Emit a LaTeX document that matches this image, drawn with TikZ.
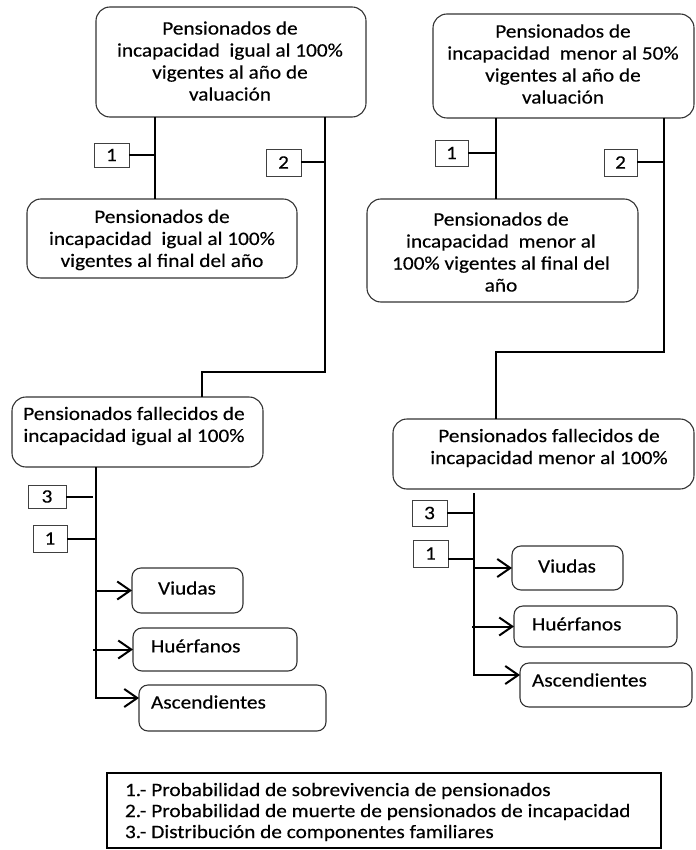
\documentclass[tikz,border=0pt]{standalone}
\usepackage{fontspec}
\setmainfont{Carlito}[FakeStretch=1.12, FakeBold=0.3]
\usetikzlibrary{arrows.meta}
\begin{document}
\begin{tikzpicture}[x=1pt,y=-1pt,
  every node/.style={font=\fontsize{19}{22}\selectfont, inner sep=0pt, outer sep=0pt},
  bigbox/.style={draw=black!80, line width=1.1pt, rounded corners=14pt, anchor=north west},
  smallbox/.style={draw=black!80, line width=1.1pt, rounded corners=9pt, anchor=north west},
  tagbox/.style={draw=black!75, line width=0.9pt, anchor=north west},
  txt/.style={align=center},
  conn/.style={line width=2pt, black},
  arr/.style={conn, -{Straight Barb[length=13pt, width=18pt, line width=2pt]}},
]
\useasboundingbox (0,0) rectangle (695,850);

% ---- left branch: total incapacity ----
\node[bigbox, minimum width=270pt, minimum height=110pt] (b1) at (96,7) {};
\node[txt] (b1t) at (230,61) {Pensionados de\\incapacidad\ \ igual al 100\%\\vigentes al año de\\valuación};

\node[bigbox, minimum width=270pt, minimum height=79pt] (b2) at (27,199) {};
\node[txt] (b2t) at (162,240) {Pensionados de\\incapacidad\ \ igual al 100\%\\vigentes al final del año};

\node[bigbox, minimum width=251pt, minimum height=70pt] (b3) at (12,397) {};
\node[txt] (b3t) at (134,426) {Pensionados fallecidos de\\incapacidad igual al 100\%};

\node[tagbox, minimum width=35pt, minimum height=24pt] (t1a) at (94,143) {1};
\node[tagbox, minimum width=35pt, minimum height=27pt] (t2a) at (266,149) {2};

\coordinate (ja) at (155,155);
\coordinate (ka) at (325,372);
\coordinate (kb) at (202,372);
\draw[conn] (b1.south -| ja) -- (b2.north -| ja);
\draw[conn] (t1a.east) -- (t1a.east -| ja);
\draw[conn] (b1.south -| ka) -- (ka) -- (kb) -- (b3.north -| kb);
\draw[conn] (t2a.east) -- (t2a.east -| ka);

% family members, left
\node[tagbox, minimum width=38pt, minimum height=23pt] (t3a) at (28,485) {3};
\node[tagbox, minimum width=34pt, minimum height=27pt] (t1b) at (33,525) {1};

\node[smallbox, minimum width=111pt, minimum height=45pt] (vi1) at (132,568) {};
\node (vi1t) at (187,588) {Viudas};
\node[smallbox, minimum width=164pt, minimum height=43pt] (hu1) at (133,628) {};
\node[anchor=west] (hu1t) at (151,646) {Huérfanos};
\node[smallbox, minimum width=187pt, minimum height=46pt] (as1) at (139,685) {};
\node[anchor=west] (as1t) at (151,702) {Ascendientes};

\coordinate (fa) at (96,698);
\draw[arr] (b3.south -| fa) -- (fa) -- (as1.west |- fa);
\draw[conn] (t3a.east) -- ++(27,0);
\draw[conn] (t1b.east) -- (t1b.east -| fa);
\draw[arr] (vi1.west -| fa) -- (vi1.west);
\draw[arr] ([xshift=-3pt]hu1.west -| fa) -- (hu1.west);

% ---- right branch: partial incapacity ----
\node[bigbox, minimum width=261pt, minimum height=104pt] (b4) at (433,14) {};
\node[txt] (b4t) at (563,64) {Pensionados de\\incapacidad\ \ menor al 50\%\\vigentes al año de\\valuación};

\node[bigbox, minimum width=271pt, minimum height=103pt] (b5) at (367,199) {};
\node[txt] (b5t) at (501,252) {Pensionados de\\incapacidad\ \ menor al\\100\% vigentes al final del\\año};

\node[bigbox, minimum width=301pt, minimum height=70pt] (b6) at (393,419) {};
\node[txt] (b6t) at (549,448) {Pensionados fallecidos de\\incapacidad menor al 100\%};

\node[tagbox, minimum width=33pt, minimum height=26pt] (t1c) at (435,140) {1};
\node[tagbox, minimum width=33pt, minimum height=27pt] (t2b) at (604,149) {2};

\coordinate (jb) at (496,153);
\coordinate (kc) at (664,352);
\coordinate (kd) at (496,352);
\draw[conn] (b4.south -| jb) -- (b5.north -| jb);
\draw[conn] (t1c.east) -- (t1c.east -| jb);
\draw[conn] (b4.south -| kc) -- (kc) -- (kd) -- (b6.north -| kd);
\draw[conn] (t2b.east) -- (t2b.east -| kc);

% family members, right
\node[tagbox, minimum width=35pt, minimum height=26pt] (t3b) at (412,500) {3};
\node[tagbox, minimum width=35pt, minimum height=27pt] (t1d) at (413,540) {1};

\node[smallbox, minimum width=111pt, minimum height=44pt] (vi2) at (512,546) {};
\node (vi2t) at (567,566) {Viudas};
\node[smallbox, minimum width=163pt, minimum height=41pt] (hu2) at (514,606) {};
\node[anchor=west] (hu2t) at (532,624) {Huérfanos};
\node[smallbox, minimum width=172pt, minimum height=44pt] (as2) at (520,663) {};
\node[anchor=west] (as2t) at (532,680) {Ascendientes};

\coordinate (fb) at (474,675);
\coordinate (jc) at (474,559);
\draw[arr] ([yshift=-4pt]b6.south -| fb) -- (fb) -- (as2.west |- fb);
\draw[conn] (t3b.east) -- (t3b.east -| fb);
\draw[conn] (jc -| t1d.east) -- (jc);
\draw[arr] (vi2.west -| fb) -- (vi2.west);
\draw[arr] ([xshift=-2pt]hu2.west -| fb) -- (hu2.west);

% ---- legend ----
\node[draw=black, line width=1.6pt, anchor=north west, minimum width=554pt, minimum height=75pt] (leg) at (107,773) {};
\node[anchor=west, align=left, font=\fontsize{19}{21}\selectfont] (legt) at (125,812)
  {1.- Probabilidad de sobrevivencia de pensionados\\
   2.- Probabilidad de muerte de pensionados de incapacidad\\
   3.- Distribución de componentes familiares};
\end{tikzpicture}
\end{document}
